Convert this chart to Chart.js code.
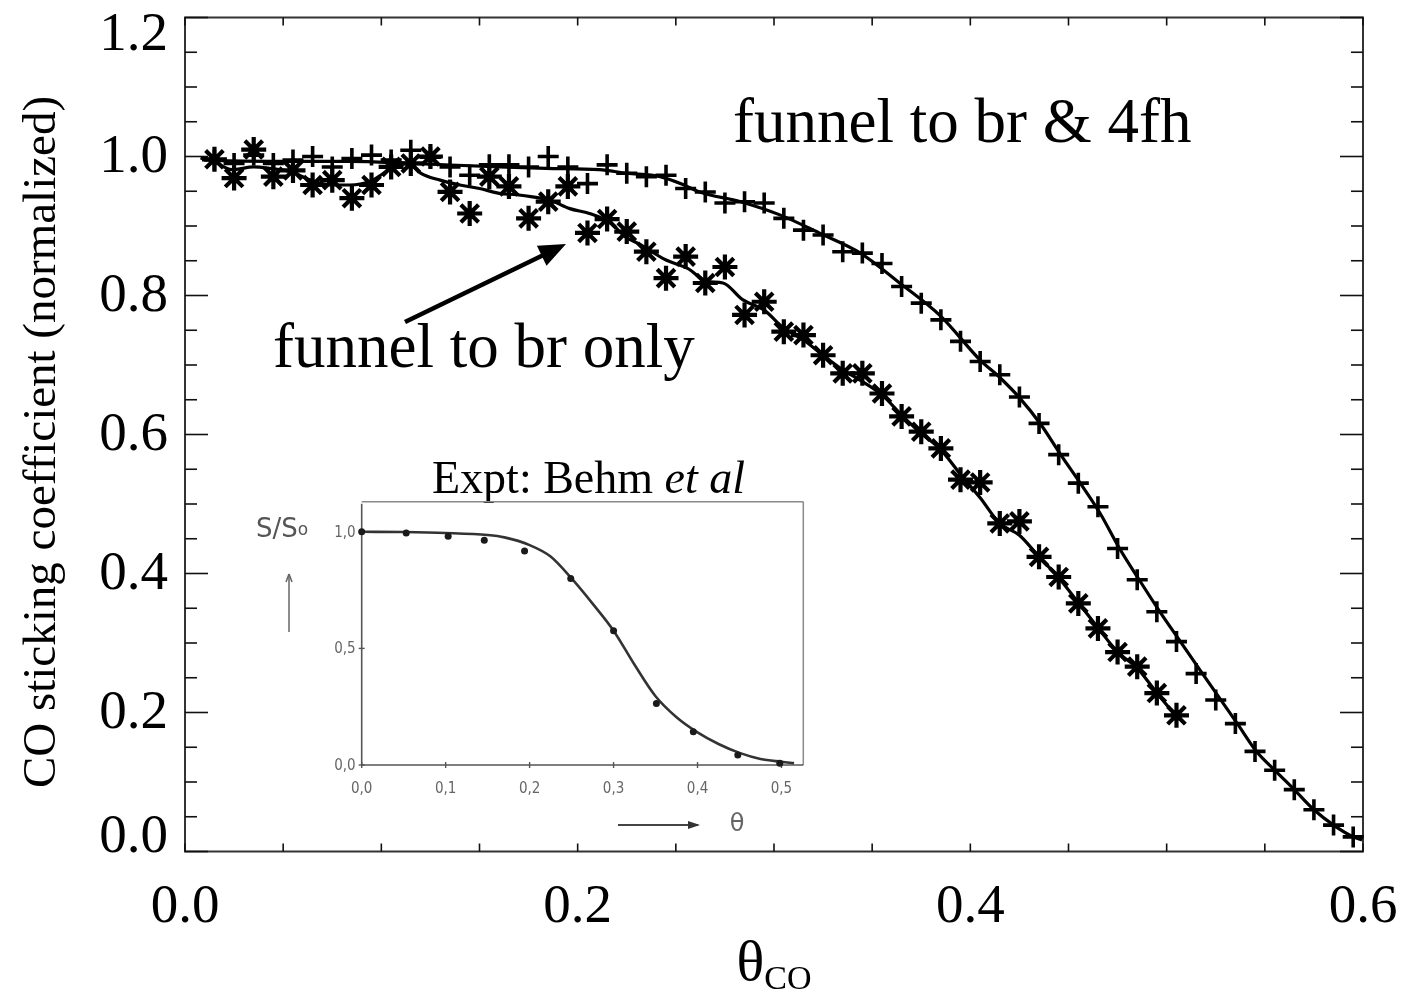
<!DOCTYPE html>
<html><head><meta charset="utf-8">
<script src="https://cdn.jsdelivr.net/npm/chart.js@4.4.1/dist/chart.umd.min.js"></script>
<style>
html,body{margin:0;padding:0;background:#fff;}
#wrap{position:relative;width:1408px;height:998px;overflow:hidden;}
#main{position:absolute;left:0;top:0;}
#inset{position:absolute;left:240px;top:495px;}
</style></head><body>
<div id="wrap"><canvas id="main" width="1408" height="998"></canvas><canvas id="inset" width="590" height="345"></canvas></div>
<script>
// ---------- main chart data ----------
const plusTheta = [0.015,0.025,0.035,0.045,0.055,0.065,0.075,0.085,0.095,0.105,
  0.115,0.125,0.135,0.145,0.155,0.165,0.175,0.185,0.195,0.205,
  0.215,0.225,0.235,0.245,0.255,0.265,0.275,0.285,0.295,0.305,
  0.315,0.325,0.335,0.345,0.355,0.365,0.375,0.385,0.395,0.405,
  0.415,0.425,0.435,0.445,0.455,0.465,0.475,0.485,0.495,0.505,
  0.515,0.525,0.535,0.545,0.555,0.565,0.575,0.585,0.595];
const plusS = [0.995,0.990,1.002,0.990,0.995,1.000,0.985,0.997,1.002,0.995,
  1.009,0.999,0.985,0.973,0.988,0.988,0.985,1.000,0.985,0.961,
  0.988,0.976,0.971,0.973,0.954,0.949,0.933,0.935,0.933,0.911,
  0.894,0.887,0.863,0.861,0.846,0.813,0.789,0.765,0.734,0.705,
  0.686,0.654,0.616,0.571,0.530,0.496,0.436,0.391,0.345,0.302,
  0.256,0.218,0.184,0.144,0.117,0.089,0.060,0.038,0.021];

const starTheta = [0.015,0.025,0.035,0.045,0.055,0.065,0.075,0.085,0.095,0.105,
  0.115,0.125,0.135,0.145,0.155,0.165,0.175,0.185,0.195,0.205,
  0.215,0.225,0.235,0.245,0.255,0.265,0.275,0.285,0.295,0.305,
  0.315,0.325,0.335,0.345,0.355,0.365,0.375,0.385,0.395,0.405,
  0.415,0.425,0.435,0.445,0.455,0.465,0.475,0.485,0.495,0.505];
const starS = [0.996,0.969,1.010,0.971,0.980,0.959,0.966,0.940,0.959,0.985,
  0.990,1.000,0.949,0.918,0.971,0.957,0.911,0.935,0.957,0.890,
  0.910,0.892,0.863,0.825,0.856,0.818,0.841,0.772,0.791,0.748,
  0.743,0.714,0.688,0.688,0.659,0.626,0.604,0.580,0.535,0.531,
  0.472,0.475,0.424,0.395,0.357,0.321,0.287,0.266,0.228,0.196];

const fitBrFhTheta = [0.008,0.019,0.054,0.084,0.115,0.160,0.184,0.211,0.225,0.242,0.255,0.262,0.283,0.303,0.323,0.344,0.364,0.385,0.405,0.415,0.425,0.436,0.446,0.456,0.466,0.476,0.486,0.497,0.507,0.517,0.536,0.546,0.555,0.565,0.575,0.585,0.595,0.5995];
const fitBrFhS = [0.998,0.994,0.993,0.993,0.990,0.985,0.983,0.981,0.976,0.971,0.958,0.949,0.935,0.916,0.890,0.861,0.818,0.770,0.707,0.682,0.653,0.614,0.571,0.530,0.487,0.436,0.391,0.343,0.302,0.261,0.184,0.143,0.117,0.089,0.060,0.038,0.021,0.0165];

const fitBrTheta = [0.008,0.013,0.024,0.035,0.043,0.054,0.064,0.074,0.084,0.094,
  0.104,0.110,0.116,0.120,0.130,0.140,0.150,0.160,0.169,0.177,
  0.186,0.196,0.206,0.217,0.224,0.232,0.245,0.256,0.266,0.274,
  0.284,0.295,0.305,0.315,0.325,0.335,0.344,0.355,0.365,0.374,
  0.385,0.396,0.405,0.415,0.425,0.435,0.445,0.455,0.465,0.475,
  0.485,0.495,0.505];
const fitBrS = [0.998,0.995,0.981,0.985,0.983,0.978,0.966,0.959,0.959,0.964,
  0.981,0.990,0.987,0.976,0.966,0.959,0.954,0.947,0.945,0.942,
  0.937,0.925,0.918,0.904,0.885,0.873,0.851,0.839,0.820,0.818,
  0.794,0.779,0.753,0.736,0.714,0.693,0.678,0.657,0.628,0.604,
  0.578,0.539,0.509,0.472,0.455,0.424,0.394,0.358,0.322,0.287,
  0.264,0.228,0.194];

const xTickLabels = ['0.0','0.2','0.4','0.6'];
const yTickLabels = ['0.0','0.2','0.4','0.6','0.8','1.0','1.2'];

// ---------- inset (experiment) data ----------
const exptTheta = [0.0,0.053,0.103,0.146,0.194,0.249,0.300,0.351,0.395,0.448,0.498];
const exptS = [1.0,0.995,0.981,0.964,0.918,0.80,0.576,0.264,0.143,0.043,0.007];
const exptFitTheta = [0,0.05,0.10,0.15,0.17,0.20,0.225,0.25,0.275,0.30,0.325,0.35,0.375,0.40,0.425,0.45,0.475,0.50,0.515];
const exptFitS = [1.0,0.999,0.995,0.986,0.976,0.943,0.894,0.80,0.692,0.576,0.43,0.295,0.205,0.14,0.09,0.052,0.026,0.014,0.008];
const insetXTickLabels = ['0,0','0,1','0,2','0,3','0,4','0,5'];
const insetYTickLabels = ['0,0','0,5','1,0'];

const pts = (xs, ys) => xs.map((v, i) => ({x: v, y: ys[i]}));
const SERIF = "'Liberation Serif', 'Times New Roman', serif";
const num = s => parseFloat(s.replace(',', '.'));

// ---------- main decorations ----------
const mainDeco = {
  id: 'mainDeco',
  beforeDatasetsDraw(chart) {
    const {ctx, chartArea: a, scales: {x, y}} = chart;
    ctx.save();
    ctx.strokeStyle = '#333'; ctx.lineWidth = 2;
    ctx.strokeRect(a.left, a.top, a.right - a.left, a.bottom - a.top);
    ctx.strokeStyle = '#111'; ctx.lineWidth = 1.6;
    const seg = (x1, y1, x2, y2) => { ctx.beginPath(); ctx.moveTo(x1, y1); ctx.lineTo(x2, y2); ctx.stroke(); };
    for (let k = 0; k <= 12; k++) {
      const px = x.getPixelForValue(k * 0.05);
      seg(px, a.bottom, px, a.bottom - 8);
      seg(px, a.top, px, a.top + 8);
    }
    for (let k = 0; k <= 24; k++) {
      const py = y.getPixelForValue(k * 0.05);
      const len = (k % 4 === 0) ? 23 : 12;
      seg(a.left, py, a.left + len, py);
      seg(a.right, py, a.right - len, py);
    }
    ctx.restore();
  },
  afterDraw(chart) {
    const {ctx, chartArea: a, scales: {x, y}} = chart;
    ctx.save();
    ctx.fillStyle = '#000';
    // y tick labels (first and last kept inside the axis span)
    ctx.font = '55px ' + SERIF;
    ctx.textAlign = 'right';
    yTickLabels.forEach((lab, i) => {
      const py = y.getPixelForValue(num(lab));
      if (i === 0) { ctx.textBaseline = 'alphabetic'; ctx.fillText(lab, 168, py); }
      else if (i === yTickLabels.length - 1) { ctx.textBaseline = 'alphabetic'; ctx.fillText(lab, 168, py + 32); }
      else { ctx.textBaseline = 'middle'; ctx.fillText(lab, 168, py + 1); }
    });
    // x tick labels
    ctx.textAlign = 'center'; ctx.textBaseline = 'alphabetic';
    xTickLabels.forEach(lab => {
      ctx.fillText(lab, x.getPixelForValue(num(lab)), 922);
    });
    // y title
    ctx.save();
    ctx.translate(55, 442);
    ctx.rotate(-Math.PI / 2);
    ctx.font = '47px ' + SERIF;
    ctx.textAlign = 'center'; ctx.textBaseline = 'alphabetic';
    ctx.fillText('CO sticking coefficient (normalized)', 0, 0);
    ctx.restore();
    // x title: theta with subscript CO
    ctx.textAlign = 'left';
    ctx.font = '58px ' + SERIF;
    const th = 'θ', sub = 'CO';
    const wTh = ctx.measureText(th).width;
    ctx.font = '34px ' + SERIF;
    const wSub = ctx.measureText(sub).width;
    const cx = (a.left + a.right) / 2;
    const x0 = cx - (wTh + wSub) / 2;
    ctx.font = '58px ' + SERIF;
    ctx.fillText(th, x0, 980);
    ctx.font = '34px ' + SERIF;
    ctx.fillText(sub, x0 + wTh, 989);
    // annotations
    ctx.font = '63px ' + SERIF;
    ctx.fillText('funnel to br & 4fh', 733, 142);
    ctx.fillText('funnel to br only', 273, 367);
    ctx.font = '46px ' + SERIF;
    const t1 = 'Expt: Behm ';
    ctx.fillText(t1, 432, 493);
    const w1 = ctx.measureText(t1).width;
    ctx.font = 'italic 46px ' + SERIF;
    ctx.fillText('et al', 432 + w1, 493);
    // arrow
    const sx = 405, sy = 322, tx = 566, ty = 244;
    const dx = tx - sx, dy = ty - sy, L = Math.hypot(dx, dy);
    const ux = dx / L, uy = dy / L, hl = 27, hw = 11;
    const bx = tx - hl * ux, by = ty - hl * uy;
    ctx.strokeStyle = '#000'; ctx.lineWidth = 4.5;
    ctx.beginPath(); ctx.moveTo(sx, sy); ctx.lineTo(bx + 2 * ux, by + 2 * uy); ctx.stroke();
    ctx.beginPath();
    ctx.moveTo(tx, ty);
    ctx.lineTo(bx - hw * uy, by + hw * ux);
    ctx.lineTo(bx + hw * uy, by - hw * ux);
    ctx.closePath(); ctx.fill();
    ctx.restore();
  }
};

new Chart(document.getElementById('main'), {
  type: 'scatter',
  data: {
    datasets: [
      {label: 'funnel to br & 4fh', data: pts(plusTheta, plusS), pointStyle: 'cross', pointRadius: 10.5,
       borderColor: '#000', backgroundColor: '#000', pointBorderWidth: 3.6, showLine: false, clip: false},
      {label: 'funnel to br only', data: pts(starTheta, starS), pointStyle: 'star', pointRadius: 12.5,
       borderColor: '#000', backgroundColor: '#000', pointBorderWidth: 4.2, showLine: false, clip: false},
      {label: 'fit br & 4fh', data: pts(fitBrFhTheta, fitBrFhS), showLine: true, pointRadius: 0,
       borderColor: '#000', borderWidth: 3.2, cubicInterpolationMode: 'monotone', clip: false},
      {label: 'fit br only', data: pts(fitBrTheta, fitBrS), showLine: true, pointRadius: 0,
       borderColor: '#000', borderWidth: 3.2, cubicInterpolationMode: 'monotone', clip: false}
    ]
  },
  options: {
    responsive: false, animation: false, devicePixelRatio: 1, events: [],
    layout: {padding: {left: 185, top: 17.5, right: 45, bottom: 146.5}},
    plugins: {legend: {display: false}, tooltip: {enabled: false}},
    scales: {
      x: {type: 'linear', min: 0, max: 0.6, display: false},
      y: {type: 'linear', min: 0, max: 1.2, display: false}
    }
  },
  plugins: [mainDeco]
});

// ---------- inset decorations ----------
const OX = 240, OY = 495;
const insetDeco = {
  id: 'insetDeco',
  beforeDatasetsDraw(chart) {
    const {ctx, chartArea: a, scales: {x, y}} = chart;
    ctx.save();
    const seg = (x1, y1, x2, y2) => { ctx.beginPath(); ctx.moveTo(x1, y1); ctx.lineTo(x2, y2); ctx.stroke(); };
    ctx.strokeStyle = '#8a8a8a'; ctx.lineWidth = 1.5;
    seg(a.left, a.top, a.right, a.top);
    seg(a.right, a.top, a.right, a.bottom);
    ctx.strokeStyle = '#555'; ctx.lineWidth = 1.6;
    seg(a.left, a.top + 2, a.left, a.bottom);
    seg(a.left, a.bottom, a.right, a.bottom);
    ctx.lineWidth = 1.4;
    insetXTickLabels.forEach(l => { const px = x.getPixelForValue(num(l)); seg(px, a.bottom - 3, px, a.bottom + 3); });
    insetYTickLabels.forEach(l => { const py = y.getPixelForValue(num(l)); seg(a.left - 3, py, a.left + 3, py); });
    ctx.restore();
  },
  afterDraw(chart) {
    const {ctx, chartArea: a, scales: {x, y}} = chart;
    ctx.save();
    ctx.fillStyle = '#666';
    ctx.font = '15px "DejaVu Sans Condensed", "DejaVu Sans", sans-serif';
    ctx.textAlign = 'right'; ctx.textBaseline = 'middle';
    insetYTickLabels.forEach(l => ctx.fillText(l, a.left - 6, y.getPixelForValue(num(l)) + 1));
    ctx.textAlign = 'center';
    insetXTickLabels.forEach(l => ctx.fillText(l, x.getPixelForValue(num(l)), a.bottom + 24));
    // S/So label
    ctx.fillStyle = '#555';
    ctx.textAlign = 'left'; ctx.textBaseline = 'alphabetic';
    ctx.font = '26px "DejaVu Sans", sans-serif';
    ctx.fillText('S/S', 256 - OX, 537 - OY);
    const ws = ctx.measureText('S/S').width;
    ctx.font = '17px "DejaVu Sans", sans-serif';
    ctx.fillText('o', 256 - OX + ws, 535 - OY);
    // vertical arrow
    const seg = (x1, y1, x2, y2) => { ctx.beginPath(); ctx.moveTo(x1, y1); ctx.lineTo(x2, y2); ctx.stroke(); };
    ctx.strokeStyle = '#666'; ctx.lineWidth = 1.5;
    seg(289 - OX, 632 - OY, 289 - OX, 574 - OY);
    seg(289 - OX, 574 - OY, 286 - OX, 582 - OY);
    seg(289 - OX, 574 - OY, 292 - OX, 582 - OY);
    // horizontal theta arrow
    ctx.strokeStyle = '#444'; ctx.lineWidth = 2;
    seg(618 - OX, 825 - OY, 698 - OX, 825 - OY);
    ctx.fillStyle = '#333';
    ctx.beginPath(); ctx.moveTo(700 - OX, 825 - OY); ctx.lineTo(688 - OX, 821 - OY); ctx.lineTo(688 - OX, 829 - OY); ctx.closePath(); ctx.fill();
    ctx.fillStyle = '#666';
    ctx.font = '24px "DejaVu Sans", sans-serif';
    ctx.textAlign = 'center'; ctx.textBaseline = 'middle';
    ctx.fillText('θ', 737 - OX, 825 - OY);
    ctx.restore();
  }
};

new Chart(document.getElementById('inset'), {
  type: 'scatter',
  data: {
    datasets: [
      {label: 'Expt points', data: pts(exptTheta, exptS), pointStyle: 'circle', pointRadius: 3.5,
       backgroundColor: '#1a1a1a', borderColor: '#1a1a1a', borderWidth: 0, showLine: false, clip: false},
      {label: 'Expt fit', data: pts(exptFitTheta, exptFitS), showLine: true, pointRadius: 0,
       borderColor: '#333', borderWidth: 2.6, cubicInterpolationMode: 'monotone', clip: false}
    ]
  },
  options: {
    responsive: false, animation: false, devicePixelRatio: 1, events: [],
    layout: {padding: {left: 121.7, top: 6.7, right: 26.7, bottom: 75}},
    plugins: {legend: {display: false}, tooltip: {enabled: false}},
    scales: {
      x: {type: 'linear', min: 0, max: 0.526, display: false},
      y: {type: 'linear', min: 0, max: 1.129, display: false}
    }
  },
  plugins: [insetDeco]
});
</script>
</body></html>
